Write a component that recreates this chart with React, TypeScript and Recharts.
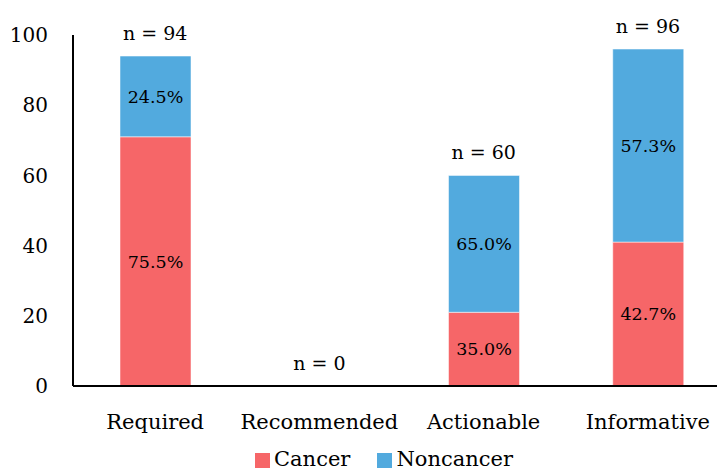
import { ComposedChart, Bar, Scatter, XAxis, YAxis, Legend, LabelList } from "recharts";

const categorias = ["Required", "Recommended", "Actionable", "Informative"];
const cancer = [71, 0, 21, 41];
const noncancer = [23, 0, 39, 55];
const pctCancer = ["75.5%", "", "35.0%", "42.7%"];
const pctNoncancer = ["24.5%", "", "65.0%", "57.3%"];
const totales = [94, 0, 60, 96];
const ticksY = [0, 20, 40, 60, 80, 100];

const datos = categorias.map((c, i) => ({
  cat: c,
  cancer: cancer[i],
  noncancer: noncancer[i],
  pc: pctCancer[i],
  pn: pctNoncancer[i],
  total: cancer[i] + noncancer[i],
  n: `n = ${totales[i]}`,
}));

const fuente = "'DejaVu Serif', serif";
const rojo = "#F66668";
const azul = "#52AADE";

function EtiquetaN(props: any) {
  const { x, y, width, height, value } = props;
  const cx = x + (width ?? 0) / 2;
  const cy = y + (height ?? 0) / 2;
  return (
    <text x={cx} y={cy - 16} textAnchor="middle" fill="#000" fontSize={19} fontFamily={fuente}>
      {value}
    </text>
  );
}

export default function App() {
  return (
    <div
      style={{
        position: "fixed",
        left: 0,
        top: 0,
        width: 717,
        height: 471,
        overflow: "hidden",
        background: "#fff",
        fontFamily: fuente,
      }}
    >
      <ComposedChart
        width={730}
        height={471}
        data={datos}
        margin={{ top: 35, right: 0, bottom: 0, left: 0 }}
        barSize={71}
      >
        <XAxis
          dataKey="cat"
          axisLine={{ stroke: "#000", strokeWidth: 2 }}
          tickLine={false}
          tickMargin={22}
          height={61}
          tick={{ fill: "#000", fontSize: 21, fontFamily: fuente }}
        />
        <YAxis
          domain={[0, 100]}
          ticks={ticksY}
          width={73}
          axisLine={{ stroke: "#000", strokeWidth: 2 }}
          tickLine={false}
          tickMargin={19}
          tick={{ fill: "#000", fontSize: 20, fontFamily: fuente }}
        />
        <Legend
          iconType="square"
          iconSize={15}
          wrapperStyle={{ fontSize: 21, color: "#000", left: 24 }}
          formatter={(v, _e, i) => (
            <span style={{ color: "#000", paddingRight: i === 0 ? 17 : 0 }}>{v}</span>
          )}
        />
        <Bar dataKey="cancer" name="Cancer" stackId="a" fill={rojo} stroke="#fff" strokeOpacity={0.5} isAnimationActive={false}>
          <LabelList dataKey="pc" position="center" fill="#000" fontSize={17.5} fontFamily={fuente} />
        </Bar>
        <Bar dataKey="noncancer" name="Noncancer" stackId="a" fill={azul} stroke="#fff" strokeOpacity={0.5} isAnimationActive={false}>
          <LabelList dataKey="pn" position="center" fill="#000" fontSize={17.5} fontFamily={fuente} />
        </Bar>
        <Scatter dataKey="total" legendType="none" shape={() => <g />} isAnimationActive={false}>
          <LabelList dataKey="n" content={EtiquetaN} />
        </Scatter>
      </ComposedChart>
    </div>
  );
}
